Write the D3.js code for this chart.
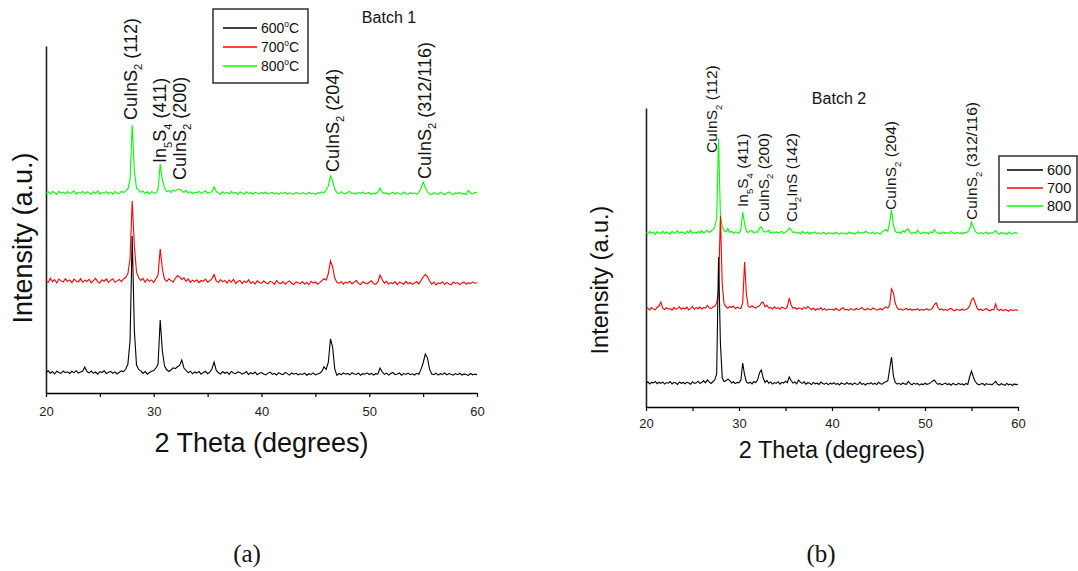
<!DOCTYPE html>
<html>
<head>
<meta charset="utf-8">
<script src="https://cdn.jsdelivr.net/npm/d3@7"></script>
<style>
  body { margin: 0; background: #fff; }
  text { font-family: "Liberation Sans", Arial, sans-serif; fill: #111; }
</style>
</head>
<body>
<svg width="1078" height="571"></svg>
<script>
var svg = d3.select('svg');

// scan: 20..60 deg 2theta, 0.2 deg step
var scanStart = 20, scanStep = 0.2;
var xTicks = [20, 25, 30, 35, 40, 45, 50, 55, 60];
var colors = ['#000000', '#ff0000', '#00ff00'];
var legend1 = ['600', '700', '800'];   // shown with degC
var legend2 = ['600', '700', '800'];

// batch 1 intensities (a.u.)
var b1_600 = [
  205, 222, 198, 214, 190, 218, 206, 196, 220, 203,
  212, 195, 217, 204, 223, 199, 209, 218, 260, 215,
  201, 219, 196, 210, 188, 214, 205, 222, 194, 208,
  216, 197, 211, 190, 207, 221, 213, 240, 290, 520,
  1570, 620, 280, 236, 222, 196, 214, 188, 205, 218,
  224, 250, 290, 730, 420, 270, 232, 215, 230, 252,
  244, 262, 276, 330, 250, 226, 204, 218, 192, 210,
  199, 214, 188, 206, 217, 193, 209, 240, 310, 226,
  202, 190, 214, 197, 208, 186, 216, 200, 193, 211,
  206, 188, 199, 214, 185, 203, 192, 210, 183, 197,
  205, 190, 181, 199, 209, 186, 196, 180, 204, 191,
  184, 206, 194, 179, 200, 188, 197, 182, 192, 185,
  199, 178, 193, 186, 201, 181, 190, 198, 215, 262,
  236, 305, 540, 460, 238, 176, 195, 183, 200, 188,
  196, 182, 203, 190, 185, 199, 178, 194, 188, 201,
  185, 197, 180, 193, 188, 250, 212, 186, 198, 179,
  195, 205, 183, 191, 200, 178, 194, 186, 199, 183,
  192, 180, 197, 188, 236, 300, 390, 350, 236, 190,
  184, 198, 179, 193, 186, 200, 181, 195, 188, 178,
  194, 183, 197, 180, 191, 186, 176, 195, 182, 189,
  184
];
var b1_700 = [
  218, 196, 236, 204, 225, 190, 230, 211, 199, 232,
  206, 221, 193, 228, 210, 200, 234, 197, 219, 205,
  227, 192, 214, 236, 201, 189, 223, 208, 230, 195,
  216, 233, 198, 211, 226, 204, 230, 247, 285, 430,
  1010, 560, 300, 242, 216, 236, 198, 229, 206, 221,
  194, 233, 272, 530, 330, 228, 205, 232, 214, 199,
  238, 262, 250, 226, 241, 207, 230, 196, 218, 204,
  222, 193, 215, 207, 229, 198, 213, 232, 275, 210,
  195, 224, 202, 216, 190, 220, 199, 228, 185, 206,
  215, 183, 209, 194, 222, 188, 203, 178, 212, 196,
  186, 210, 193, 181, 207, 199, 176, 215, 190, 184,
  204, 179, 198, 211, 187, 175, 201, 192, 183, 205,
  180, 196, 173, 207, 189, 200, 178, 194, 213, 232,
  218, 282, 410, 350, 240, 196, 186, 205, 178, 198,
  191, 207, 180, 199, 214, 186, 175, 203, 190, 181,
  197, 212, 184, 176, 201, 270, 225, 188, 206, 179,
  193, 185, 204, 172, 198, 189, 178, 206, 183, 195,
  176, 190, 202, 181, 214, 250, 275, 255, 210, 178,
  199, 170, 192, 184, 203, 175, 196, 181, 172, 200,
  186, 194, 174, 189, 198, 177, 193, 183, 201, 188,
  192
];
var b1_800 = [
  198, 212, 190, 215, 203, 185, 217, 200, 209, 192,
  214, 196, 205, 219, 188, 207, 198, 216, 193, 210,
  201, 187, 213, 196, 221, 190, 205, 199, 214, 193,
  209, 188, 215, 200, 193, 218, 204, 222, 240, 330,
  880, 420, 250, 228, 206, 218, 197, 212, 190, 214,
  203, 196, 240, 490, 330, 250, 212, 224, 205, 230,
  218, 236, 240, 221, 205, 226, 199, 214, 193, 208,
  201, 216, 194, 209, 222, 198, 205, 213, 260, 215,
  200, 188, 213, 196, 207, 192, 215, 197, 205, 186,
  210, 199, 190, 212, 195, 203, 187, 208, 198, 191,
  205, 194, 210, 188, 199, 207, 192, 201, 186, 204,
  196, 209, 190, 202, 194, 187, 206, 198, 191, 203,
  195, 188, 207, 193, 200, 186, 204, 197, 212, 200,
  232, 268, 370, 320, 238, 205, 193, 211, 198, 190,
  207, 214, 193, 201, 188, 205, 196, 210, 191, 199,
  203, 187, 200, 192, 209, 250, 206, 194, 201, 185,
  198, 208, 190, 204, 193, 187, 211, 196, 188, 203,
  194, 200, 186, 207, 245, 310, 258, 212, 190, 184,
  203, 192, 187, 208, 196, 181, 199, 210, 190, 185,
  201, 194, 206, 188, 198, 183, 225, 200, 191, 204,
  205
];
var b1Offsets = [0, 910, 1800];

// batch 2 intensities (a.u.)
var b2_600 = [
  238, 252, 230, 246, 241, 256, 233, 248, 236, 251,
  229, 244, 238, 255, 231, 247, 240, 226, 250, 237,
  245, 232, 249, 239, 228, 253, 236, 242, 258, 234,
  247, 262, 241, 270, 251, 236, 255, 272, 330, 1500,
  640, 290, 255, 262, 278, 266, 240, 252, 234, 246,
  243, 268, 440, 320, 250, 236, 248, 231, 254, 242,
  272, 340, 370, 290, 245, 266, 238, 250, 229, 244,
  236, 253, 228, 247, 240, 258, 244, 300, 265, 239,
  250, 231, 270, 246, 236, 252, 228, 243, 237, 224,
  246, 232, 238, 225, 249, 235, 229, 241, 222, 238,
  230, 244, 226, 235, 221, 240, 233, 227, 245, 229,
  236, 222, 241, 230, 225, 248, 227, 234, 220, 237,
  231, 243, 226, 238, 224, 247, 232, 229, 244, 252,
  262, 380, 500, 310, 246, 228, 237, 224, 240, 231,
  226, 256, 233, 222, 239, 228, 235, 219, 231, 224,
  238, 227, 233, 241, 258, 270, 244, 226, 235, 221,
  230, 239, 224, 233, 218, 236, 227, 222, 238, 225,
  231, 220, 236, 226, 300, 360, 300, 255, 232, 221,
  229, 236, 218, 234, 225, 230, 221, 238, 256, 227,
  219, 233, 225, 216, 236, 222, 229, 215, 231, 224,
  228
];
var b2_700 = [
  236, 250, 229, 255, 241, 232, 258, 270, 310, 248,
  233, 252, 239, 245, 228, 256, 237, 249, 262, 235,
  251, 240, 258, 231, 247, 266, 238, 254, 243, 260,
  237, 255, 248, 275, 252, 244, 261, 268, 300, 420,
  1170, 480, 290, 262, 248, 266, 255, 270, 242, 258,
  250, 245, 300, 710, 380, 265, 256, 272, 258, 249,
  266, 270, 300, 310, 262, 278, 248, 255, 240, 262,
  246, 253, 237, 258, 249, 241, 263, 350, 280, 247,
  255, 238, 251, 244, 236, 258, 242, 265, 248, 233,
  249, 228, 241, 236, 252, 231, 244, 226, 239, 233,
  240, 228, 247, 235, 224, 242, 252, 231, 238, 226,
  243, 235, 228, 247, 233, 240, 256, 237, 229, 246,
  238, 232, 251, 241, 228, 236, 245, 230, 250, 262,
  248, 280, 440, 400, 300, 250, 234, 242, 228, 238,
  246, 232, 240, 227, 236, 230, 243, 224, 237, 229,
  235, 241, 228, 236, 247, 285, 300, 255, 232, 241,
  228, 236, 224, 240, 246, 230, 222, 237, 231, 226,
  240, 228, 234, 245, 270, 330, 350, 300, 248, 230,
  238, 224, 233, 246, 228, 222, 237, 231, 290, 236,
  225, 238, 221, 234, 229, 218, 236, 224, 230, 232,
  226
];
var b2_800 = [
  242, 231, 255, 238, 249, 227, 253, 240, 236, 258,
  234, 250, 243, 229, 256, 239, 246, 262, 237, 251,
  244, 233, 257, 241, 268, 236, 249, 238, 255, 243,
  261, 240, 252, 268, 245, 258, 274, 300, 390, 1180,
  420, 300, 262, 250, 285, 248, 256, 238, 252, 245,
  237, 275, 450, 330, 258, 244, 262, 265, 240, 252,
  247, 290, 300, 262, 249, 255, 268, 242, 251, 236,
  253, 240, 246, 258, 235, 249, 262, 290, 275, 244,
  252, 238, 247, 230, 256, 241, 236, 250, 228, 245,
  238, 251, 233, 244, 229, 248, 240, 226, 243, 235,
  241, 230, 248, 237, 226, 244, 232, 239, 228, 250,
  235, 243, 229, 240, 252, 234, 246, 238, 257, 247,
  240, 236, 251, 231, 245, 238, 229, 250, 262, 275,
  256, 350, 470, 320, 258, 242, 250, 236, 262, 248,
  270, 280, 246, 234, 249, 238, 265, 244, 232, 250,
  238, 246, 231, 252, 240, 275, 248, 236, 243, 229,
  250, 237, 244, 232, 255, 241, 230, 248, 236, 243,
  230, 247, 239, 252, 280, 350, 300, 256, 240, 233,
  246, 231, 239, 250, 228, 244, 236, 248, 265, 237,
  229, 245, 234, 241, 226, 250, 235, 230, 243, 238,
  240
];
var b2Offsets = [0, 740, 1500];

// peak annotations: 2theta, intensity at label foot, name (_x = subscript)
var b1PeakPos = [27.85, 30.58, 32.39, 46.59, 55.13];
var b1PeakAt = [2730, 2300, 2130, 2210, 2140];
var b1PeakNames = ['CuInS_2 (112)', 'In_5S_4 (411)', 'CuInS_2 (200)', 'CuInS_2 (204)', 'CuInS_2 (312/116)'];

var b2PeakPos = [27.05, 30.4, 32.6, 35.6, 46.3, 55.0];
var b2PeakAt = [2540, 2000, 1850, 1850, 1970, 1870];
var b2PeakNames = ['CuInS_2 (112)', 'In_5S_4 (411)', 'CuInS_2 (200)', 'Cu_2InS (142)', 'CuInS_2 (204)', 'CuInS_2 (312/116)'];

function addFormula(sel, str, fs) {
  // split "CuInS_2 (112)" into normal / subscript tspans
  var parts = [], buf = '';
  for (var i = 0; i < str.length; i++) {
    if (str[i] === '_') {
      if (buf) parts.push({ t: buf, sub: false });
      buf = '';
      parts.push({ t: str[i + 1], sub: true });
      i++;
    } else buf += str[i];
  }
  if (buf) parts.push({ t: buf, sub: false });
  var shift = 0;
  parts.forEach(function(p) {
    var target = p.sub ? fs * 0.3 : 0;
    sel.append('tspan')
      .attr('dy', target - shift)
      .style('font-size', p.sub ? (fs * 0.62) + 'px' : fs + 'px')
      .text(p.t);
    shift = target;
  });
}

function drawPanel(p) {
  var x = d3.scaleLinear().domain([20, 60]).range([p.left, p.right]);
  var y = d3.scaleLinear().domain([0, p.yMax]).range([p.bottom, p.top]);
  var g = svg.append('g');

  var xAxis = g.append('g')
    .attr('transform', 'translate(0,' + p.bottom + ')')
    .call(d3.axisBottom(x)
      .tickValues(xTicks)
      .tickSize(4)
      .tickSizeOuter(0)
      .tickPadding(p.tickPad)
      .tickFormat(function(d) { return d % 10 === 0 ? d : ''; }));
  xAxis.attr('font-family', null).attr('font-size', null);
  xAxis.select('.domain').attr('stroke-width', 1.4);
  xAxis.selectAll('.tick line').attr('stroke-width', 1.2);
  xAxis.selectAll('.tick text').style('font-size', p.tickFont + 'px').style('fill', '#222');

  var yAxis = g.append('g')
    .attr('transform', 'translate(' + p.left + ',0)')
    .call(d3.axisLeft(y).tickValues([]).tickSizeOuter(0));
  yAxis.select('.domain').attr('stroke-width', 1.6).attr('stroke', '#222');

  var line = function(off) {
    return d3.line()
      .x(function(d, i) { return x(scanStart + i * scanStep); })
      .y(function(d) { return y(d + off); });
  };

  // draw top trace first so black sits on top
  for (var k = p.series.length - 1; k >= 0; k--) {
    g.append('path')
      .datum(p.series[k])
      .attr('fill', 'none')
      .attr('stroke', colors[k])
      .attr('stroke-width', 1.1)
      .attr('d', line(p.offsets[k]));
  }

  p.peakPos.forEach(function(pos, i) {
    var t = g.append('text')
      .attr('transform', 'translate(' + x(pos) + ',' + y(p.peakAt[i]) + ') rotate(-90)')
      .attr('y', p.peakFont * 0.36)
      .style('font-size', p.peakFont + 'px');
    addFormula(t, p.peakNames[i], p.peakFont);
  });

  g.append('text')
    .attr('x', (p.left + p.right) / 2)
    .attr('y', p.xTitleY)
    .attr('text-anchor', 'middle')
    .style('font-size', p.titleFont + 'px')
    .text('2 Theta (degrees)');

  g.append('text')
    .attr('transform', 'translate(' + p.yTitleX + ',' + p.yTitleY + ') rotate(-90)')
    .attr('text-anchor', 'middle')
    .style('font-size', p.titleFont + 'px')
    .text('Intensity (a.u.)');

  g.append('text')
    .attr('x', p.batchX)
    .attr('y', p.batchY)
    .attr('text-anchor', 'middle')
    .style('font-size', '16px')
    .text(p.batch);

  // legend
  var lg = p.legend;
  g.append('rect')
    .attr('x', lg.x).attr('y', lg.y).attr('width', lg.w).attr('height', lg.h)
    .attr('fill', '#fff').attr('stroke', '#222').attr('stroke-width', 1.4);
  p.legendLabels.forEach(function(lab, i) {
    var ry = lg.y + lg.row0 + i * lg.step;
    g.append('line')
      .attr('x1', lg.x + lg.pad).attr('x2', lg.x + lg.pad + lg.len)
      .attr('y1', ry).attr('y2', ry)
      .attr('stroke', colors[i]).attr('stroke-width', 1.3);
    var t = g.append('text')
      .attr('x', lg.x + lg.pad + lg.len + 4)
      .attr('y', ry + lg.fs * 0.36)
      .style('font-size', lg.fs + 'px');
    t.append('tspan').text(lab);
    if (p.degC) {
      t.append('tspan').attr('dy', -lg.fs * 0.4).style('font-size', (lg.fs * 0.6) + 'px').text('o');
      t.append('tspan').attr('dy', lg.fs * 0.4).text('C');
    }
  });
}

drawPanel({
  left: 46, right: 477, bottom: 393, top: 46, yMax: 3470,
  series: [b1_600, b1_700, b1_800], offsets: b1Offsets,
  tickPad: 10, tickFont: 13, titleFont: 27,
  xTitleY: 452, yTitleX: 32, yTitleY: 238,
  peakFont: 18, peakPos: b1PeakPos, peakAt: b1PeakAt, peakNames: b1PeakNames,
  batch: 'Batch 1', batchX: 389, batchY: 23,
  legendLabels: legend1, degC: true,
  legend: { x: 213, y: 9, w: 95, h: 74, row0: 19, step: 19, pad: 10, len: 34, fs: 14 }
});

drawPanel({
  left: 646, right: 1018, bottom: 407, top: 108, yMax: 2990,
  series: [b2_600, b2_700, b2_800], offsets: b2Offsets,
  tickPad: 8, tickFont: 13, titleFont: 23.5,
  xTitleY: 458, yTitleX: 608, yTitleY: 280,
  peakFont: 15.5, peakPos: b2PeakPos, peakAt: b2PeakAt, peakNames: b2PeakNames,
  batch: 'Batch 2', batchX: 839, batchY: 104,
  legendLabels: legend2, degC: false,
  legend: { x: 999, y: 156, w: 78, h: 66, row0: 14, step: 18, pad: 8, len: 36, fs: 14.5 }
});

svg.append('text').attr('x', 247).attr('y', 562).attr('text-anchor', 'middle')
  .style('font-family', '"Liberation Serif", "Times New Roman", serif').style('font-size', '25px')
  .text('(a)');
svg.append('text').attr('x', 821).attr('y', 562).attr('text-anchor', 'middle')
  .style('font-family', '"Liberation Serif", "Times New Roman", serif').style('font-size', '25px')
  .text('(b)');
</script>
</body>
</html>
